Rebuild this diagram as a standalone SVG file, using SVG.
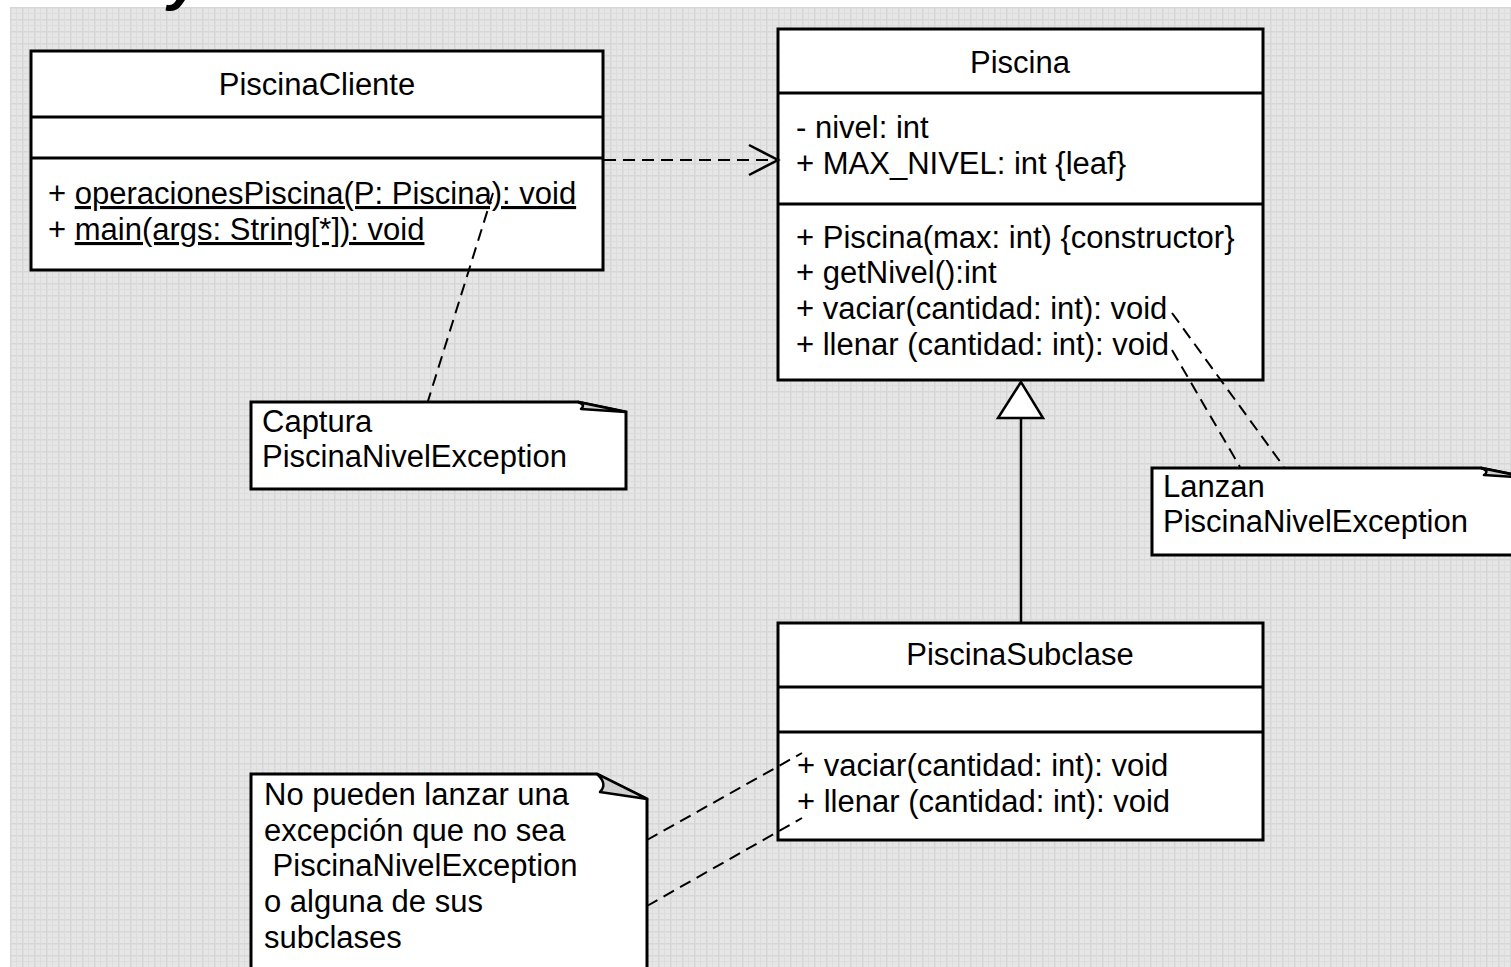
<svg xmlns="http://www.w3.org/2000/svg" width="1511" height="967" viewBox="0 0 1511 967">
<defs>
<pattern id="grid" x="10" y="7" width="12" height="12" patternUnits="userSpaceOnUse">
<rect width="12" height="12" fill="#e6e6e6"/>
<rect x="0" y="0" width="12" height="1.5" fill="#d6d6d6"/>
<rect x="0" y="0" width="1.5" height="12" fill="#d6d6d6"/>
<rect x="6" y="0" width="1" height="12" fill="#dcdcdc"/>
<rect x="0" y="6" width="12" height="1" fill="#dcdcdc"/>
</pattern>
<style>
.box{fill:#fff;stroke:#000;stroke-width:3}
.div{stroke:#000;stroke-width:3}
.t{font-family:"Liberation Sans",Arial,sans-serif;font-size:31px;fill:#000}
.c{text-anchor:middle}
.dash{fill:none;stroke:#000;stroke-width:2;stroke-dasharray:12 7}
.solid{fill:none;stroke:#000;stroke-width:2.5}
.flap{fill:#d0d0d0;stroke:#000;stroke-width:2.5;stroke-linejoin:round}
</style>
</defs>
<rect width="1511" height="967" fill="#fff"/>
<rect x="10" y="7" width="1501" height="960" fill="url(#grid)"/>
<text x="168" y="-1" style="font-family:'Liberation Sans',Arial,sans-serif;font-size:60px;font-weight:bold;font-style:italic" fill="#000">y</text>

<g id="PiscinaCliente">
<rect class="box" x="31" y="51" width="572" height="219"/>
<line class="div" x1="31" y1="117" x2="603" y2="117"/>
<line class="div" x1="31" y1="158" x2="603" y2="158"/>
<text class="t c" x="317" y="95">PiscinaCliente</text>
<text class="t" x="48" y="204">+ <tspan text-decoration="underline">operacionesPiscina(P: Piscina): void</tspan></text>
<text class="t" x="48" y="240">+ <tspan text-decoration="underline">main(args: String[*]): void</tspan></text>
</g>

<g id="Piscina">
<rect class="box" x="778" y="29" width="485" height="351"/>
<line class="div" x1="778" y1="93" x2="1263" y2="93"/>
<line class="div" x1="778" y1="204" x2="1263" y2="204"/>
<text class="t c" x="1020" y="73">Piscina</text>
<text class="t" x="796" y="138">- nivel: int</text>
<text class="t" x="796" y="174">+ MAX_NIVEL: int {leaf}</text>
<text class="t" x="796" y="248">+ Piscina(max: int) {constructor}</text>
<text class="t" x="796" y="283">+ getNivel():int</text>
<text class="t" x="796" y="319">+ vaciar(cantidad: int): void</text>
<text class="t" x="796" y="355">+ llenar (cantidad: int): void</text>
</g>

<g id="PiscinaSubclase">
<rect class="box" x="778" y="623" width="485" height="217"/>
<line class="div" x1="778" y1="687" x2="1263" y2="687"/>
<line class="div" x1="778" y1="732" x2="1263" y2="732"/>
<text class="t c" x="1020" y="665">PiscinaSubclase</text>
<text class="t" x="797" y="776">+ vaciar(cantidad: int): void</text>
<text class="t" x="797" y="812">+ llenar (cantidad: int): void</text>
</g>

<g id="noteCaptura">
<path class="box" d="M251,402 L578,402 L626,412 L626,489 L251,489 Z"/>
<path class="flap" d="M578,402 Q586,405 581,409 L626,412 Z"/>
<text class="t" x="262" y="432">Captura</text>
<text class="t" x="262" y="467">PiscinaNivelException</text>
</g>

<g id="noteLanzan">
<path class="box" d="M1152,468 L1481,468 L1530,478 L1530,555 L1152,555 Z"/>
<path class="flap" d="M1481,468 Q1490,471 1484,475 L1530,478 Z"/>
<text class="t" x="1163" y="497">Lanzan</text>
<text class="t" x="1163" y="532">PiscinaNivelException</text>
</g>

<g id="noteNoPueden">
<path class="box" d="M251,774 L597,774 L647,799 L647,980 L251,980 Z"/>
<path class="flap" d="M597,774 Q608,784 600,792 L647,799 Z"/>
<text class="t" x="264" y="805">No pueden lanzar una</text>
<text class="t" x="264" y="841">excepción que no sea</text>
<text class="t" x="264" y="876" xml:space="preserve"> PiscinaNivelException</text>
<text class="t" x="264" y="912">o alguna de sus</text>
<text class="t" x="264" y="948">subclases</text>
</g>

<g id="connectors">
<line class="dash" x1="604" y1="160" x2="776" y2="160"/>
<polyline class="solid" points="749,145 778,160 749,175"/>
<line class="dash" x1="493" y1="193" x2="428" y2="401"/>
<line class="dash" x1="1172" y1="313" x2="1284" y2="467"/>
<line class="dash" x1="1172" y1="350" x2="1240" y2="467"/>
<line class="dash" x1="647" y1="840" x2="802" y2="753"/>
<line class="dash" x1="647" y1="906" x2="802" y2="818"/>
<line x1="1021" y1="418" x2="1021" y2="622" stroke="#000" stroke-width="2.5"/>
<polygon points="1021,382 998,418 1043,418" fill="#fff" stroke="#000" stroke-width="2.5" stroke-linejoin="miter"/>
</g>
</svg>
